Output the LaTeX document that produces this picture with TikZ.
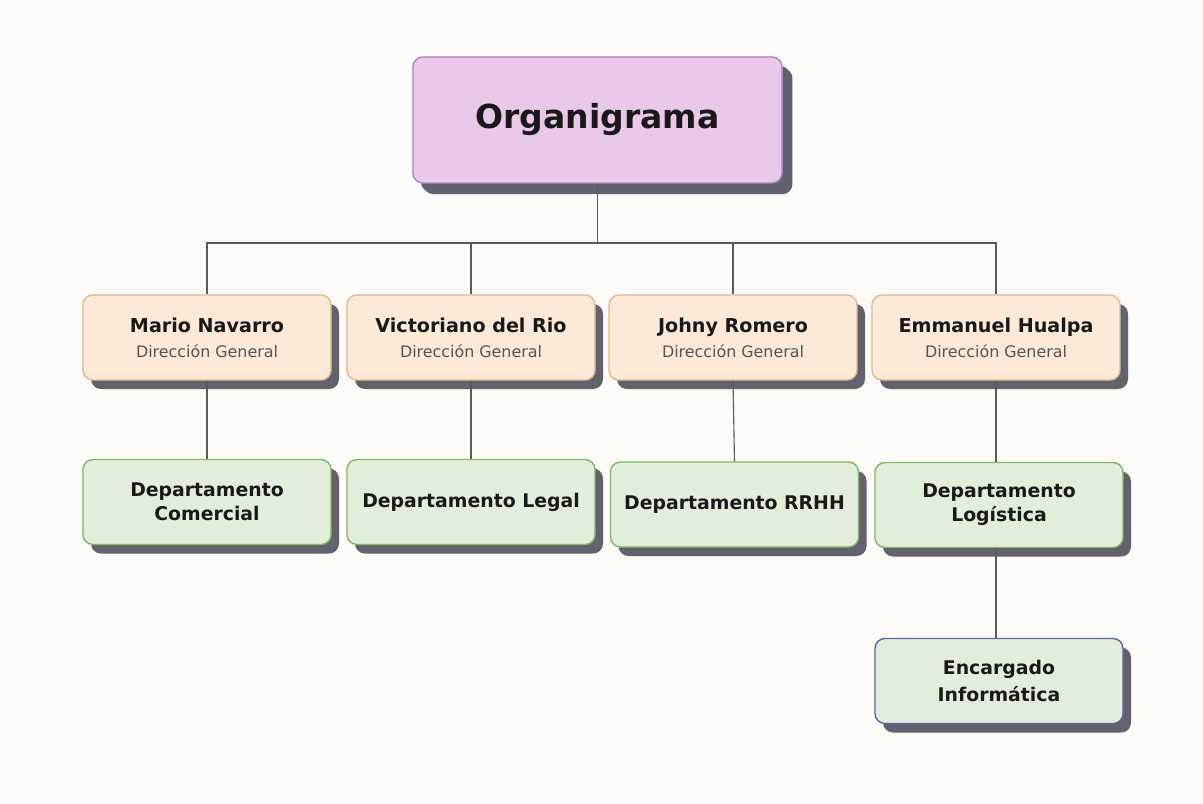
\documentclass[tikz,border=0pt]{standalone}
\usepackage{fontspec}
\setmainfont{DejaVu Sans}
\usetikzlibrary{shadows}

\definecolor{bgpaper}{HTML}{FCFBF8}
\definecolor{topfill}{HTML}{EAC8EA}
\definecolor{topline}{HTML}{B07FC4}
\definecolor{dirfill}{HTML}{FCE9D8}
\definecolor{dirline}{HTML}{E2B98C}
\definecolor{depfill}{HTML}{E1EEDB}
\definecolor{depline}{HTML}{7DB862}
\definecolor{infoline}{HTML}{5A66A8}
\definecolor{shadowgray}{HTML}{62626E}
\definecolor{linkgray}{HTML}{5A5A5A}
\definecolor{subgray}{HTML}{555555}

\newcommand{\cargo}[1]{{\mdseries\color{subgray}\fontsize{11.3}{18}\selectfont #1}}

\tikzset{
    box/.style={rectangle, rounded corners=0.25cm, line width=1pt, align=center,
        text=black!90,
        drop shadow={shadow xshift=0.2cm, shadow yshift=-0.225cm, fill=shadowgray, opacity=1}},
    titlebox/.style={box, fill=topfill, draw=topline, minimum width=9.225cm, minimum height=3.15cm,
        font=\bfseries\fontsize{23.5}{28}\selectfont,
        drop shadow={shadow xshift=0.26cm, shadow yshift=-0.28cm, fill=shadowgray, opacity=1}},
    dirbox/.style={box, fill=dirfill, draw=dirline, minimum width=6.2cm, minimum height=2.125cm,
        font=\bfseries\fontsize{13.6}{18}\selectfont},
    depbox/.style={box, fill=depfill, draw=depline, minimum width=6.2cm, minimum height=2.125cm,
        font=\bfseries\fontsize{13.4}{17}\selectfont},
    infobox/.style={depbox, draw=infoline, font=\bfseries\fontsize{13.4}{19}\selectfont},
    link/.style={draw=linkgray, line width=0.8pt}
}

\begin{document}
\begin{tikzpicture}[x=0.025cm, y=-0.025cm]
    % Fondo
    \fill[bgpaper] (0,0) rectangle (1203,803);

    % Cabecera
    \node[titlebox] (top) at (597.5,120) {Organigrama};

    % Direcciones
    \node[dirbox] (mario) at (207,337.5) {Mario Navarro\\\cargo{Dirección General}};
    \node[dirbox] (victo) at (471,337.5) {Victoriano del Rio\\\cargo{Dirección General}};
    \node[dirbox] (johny) at (733,337.5) {Johny Romero\\\cargo{Dirección General}};
    \node[dirbox] (emma) at (996,337.5) {Emmanuel Hualpa\\\cargo{Dirección General}};

    % Departamentos
    \node[depbox] (comercial) at (207,502) {Departamento\\Comercial};
    \node[depbox] (legal) at (471,502) {Departamento Legal};
    \node[depbox] (rrhh) at (734.5,504.5) {Departamento RRHH};
    \node[depbox] (logistica) at (999,505) {Departamento\\Logística};
    \node[infobox] (info) at (999,681) {Encargado\\Informática};

    % Conexiones
    \coordinate (bus) at (600,243);
    \draw[link] (top.south) -- (top.south |- bus);
    \foreach \n in {mario,victo,johny,emma}
        \draw[link] (top.south |- bus) -| (\n.north);
    \draw[link] (mario.south) -- (comercial.north);
    \draw[link] (victo.south) -- (legal.north);
    \draw[link] (johny.south) -- (rrhh.north);
    \draw[link] (emma.south) -- (emma.south |- logistica.north);
    \draw[link] (logistica.south -| emma.south) -- (emma.south |- info.north);
\end{tikzpicture}
\end{document}
